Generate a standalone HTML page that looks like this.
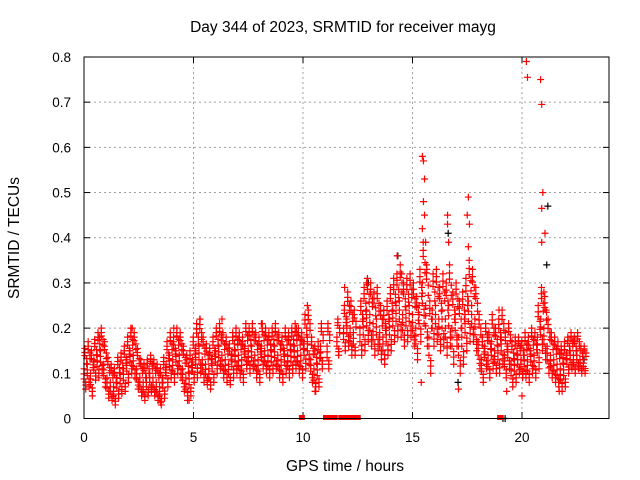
<!DOCTYPE html>
<html><head><meta charset="utf-8"><style>
body{margin:0;background:#fff;}
svg{display:block;font-family:"Liberation Sans",sans-serif;}
</style></head><body>
<svg id="chart" width="640" height="480">
<text x="343" y="32" text-anchor="middle" font-size="15.5">Day 344 of 2023, SRMTID for receiver mayg</text>
<text x="345" y="471" text-anchor="middle" font-size="15.5">GPS time / hours</text>
<text transform="translate(19,238) rotate(-90)" text-anchor="middle" font-size="15.5">SRMTID / TECUs</text>
<g id="grid"></g><g id="ticks"></g><g id="marks"></g>
<rect x="84" y="57" width="525" height="361.5" fill="none" stroke="#000" stroke-width="1"/>
</svg>
<script>
const xTicks=[0,5,10,15,20];
const yTicks=[0,0.1,0.2,0.3,0.4,0.5,0.6,0.7,0.8];
const yTickLabels=["0","0.1","0.2","0.3","0.4","0.5","0.6","0.7","0.8"];
const timeStep=0.15;
const mid=[.11,.12,.10,.13,.14,.15,.12,.09,.08,.07,.09,.10,.11,.13,.15,.14,.11,.09,.08,.09,.10,.09,.08,.07,.09,.12,.14,.13,.15,.14,.11,.09,.10,.13,.15,.16,.13,.12,.11,.13,.15,.16,.14,.13,.12,.14,.15,.14,.13,.16,.15,.16,.14,.13,.16,.15,.14,.15,.16,.14,.13,.15,.14,.15,.16,.15,.14,.17,.18,.13,.11,.12,.16,null,.16,null,null,.18,null,.20,.22,.20,.19,null,.20,.22,.24,.23,.21,.22,.19,.18,.20,.22,.24,.25,.26,.23,.24,.25,.23,.20,.25,.30,.25,.18,.24,.25,.22,.24,.22,.25,.20,.23,.18,.20,.23,.26,.25,.22,.17,.13,.16,.14,.17,.15,.16,.18,.14,.16,.12,.13,.14,.13,.14,.13,.15,.14,.18,.22,.20,.16,.14,.13,.12,.11,.12,.14,.15,.14,.15,.13,.13];
const spread=[.045,.05,.05,.045,.05,.05,.05,.045,.04,.04,.045,.045,.05,.05,.05,.05,.045,.04,.04,.04,.04,.04,.04,.04,.045,.05,.05,.05,.05,.05,.05,.05,.05,.05,.06,.06,.05,.045,.045,.05,.05,.05,.05,.05,.045,.05,.05,.05,.05,.05,.05,.05,.05,.05,.05,.05,.05,.05,.05,.05,.05,.05,.05,.05,.05,.05,.05,.06,.06,.05,.05,.05,.05,.05,.05,.05,.05,.04,.05,.05,.06,.06,.05,.05,.06,.07,.07,.07,.07,.07,.06,.06,.06,.07,.07,.07,.08,.07,.07,.07,.07,.07,.08,.09,.09,.08,.08,.08,.07,.08,.08,.09,.08,.07,.08,.08,.08,.09,.08,.07,.06,.05,.05,.05,.06,.05,.06,.06,.05,.05,.05,.05,.04,.04,.05,.05,.05,.05,.07,.07,.07,.06,.05,.05,.05,.05,.05,.04,.04,.04,.04,.03,.03];
const peakT=[0.7,2.2,4.1,5.3,6.3,8.1,9.7,10.2,11.9,12.9,14.3,14.5,15.45,15.5,15.55,15.5,15.55,15.45,15.6,15.65,16.6,16.6,16.65,17.55,17.5,17.6,17.55,18.95,20.2,20.25,20.85,20.9,20.95,20.9,21.05,21.1,20.9,21.0,3.5,4.8,10.55,15.4,17.1,19.3,20.0,21.7];
const peakV=[.18,.2,.2,.22,.22,.21,.2,.25,.29,.3,.36,.32,.58,.57,.53,.48,.45,.42,.39,.33,.45,.43,.39,.49,.45,.43,.38,.24,.79,.755,.75,.695,.5,.465,.41,.24,.39,.28,.035,.04,.06,.08,.065,.06,.05,.06];
const zeroT=[9.95,11.05,11.3,11.45,11.75,11.9,12.1,12.3,12.5,19.0];
const blackT=[14.3,16.6,21.15,21.1,17.05,12.95,22.8,19.1,19.2];
const blackV=[.36,.41,.47,.34,.08,.3,.13,0,0];
const X=t=>84+t*21.9;
const Y=v=>418.5-v*451.9;
const NS='http://www.w3.org/2000/svg';
const grid=document.getElementById('grid'),ticks=document.getElementById('ticks'),marks=document.getElementById('marks');
function mk(tag,attrs,parent){const e=document.createElementNS(NS,tag);for(const k in attrs)e.setAttribute(k,attrs[k]);parent.appendChild(e);return e;}
xTicks.forEach(t=>{const x=X(t);
 if(t>0){const g=mk('line',{x1:x,x2:x,y1:57,y2:418.5,stroke:'#a0a0a0','stroke-dasharray':'2,3'},grid);
 
 }
 mk('line',{x1:x,x2:x,y1:418.5,y2:412,stroke:'#000'},ticks);mk('line',{x1:x,x2:x,y1:57,y2:63,stroke:'#000'},ticks);
 const l=mk('text',{x:x,y:442,'text-anchor':'middle','font-size':13.5},ticks);l.textContent=t;
 
 });
yTicks.forEach((v,i)=>{const y=Y(v);
 if(v>0&&v<0.8){const g=mk('line',{x1:84,x2:609,y1:y,y2:y,stroke:'#a0a0a0','stroke-dasharray':'2,3'},grid);
 
 }
 mk('line',{x1:84,x2:90,y1:y,y2:y,stroke:'#000'},ticks);mk('line',{x1:603,x2:609,y1:y,y2:y,stroke:'#000'},ticks);
 const l=mk('text',{x:71,y:y+5,'text-anchor':'end','font-size':13.5},ticks);l.textContent=yTickLabels[i];
 
 });
function plus(t,v,col){const x=X(t),y=Y(v);
 const p=mk('path',{d:`M${x-3.5},${y}h7M${x},${y-3.5}v7`,stroke:col,'stroke-width':1.2,fill:'none'},marks);
 
 }
blackT.forEach((t,i)=>plus(t+0.03,blackV[i],'#000'));
const fr=[0,1,-1,0.5,-0.5,0.8,-0.8,0.25,-0.25,0.65,-0.65];
mid.forEach((m,i)=>{if(m===null)return;const t=i*timeStep;
 fr.forEach((f,j)=>plus(t+(j%4)*0.04,m+f*spread[i],'#f00'));});
peakT.forEach((t,i)=>plus(t,peakV[i],'#f00'));
zeroT.forEach(t=>{const r=mk('rect',{x:X(t)-3,y:415,width:6,height:5,fill:'#f00'},marks);
 
 });
</script>
</body></html>
